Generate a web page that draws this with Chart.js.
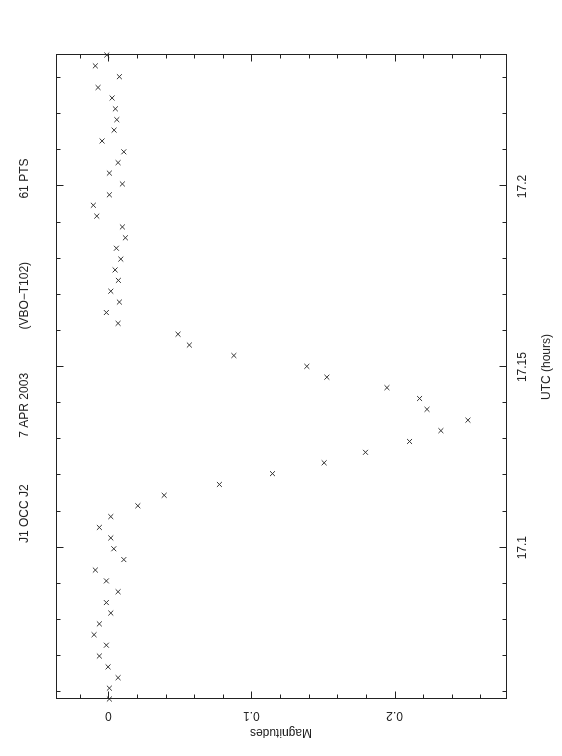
<!DOCTYPE html>
<html>
<head>
<meta charset="utf-8">
<title>J1 OCC J2 - 7 APR 2003</title>
<script src="https://cdn.jsdelivr.net/npm/chart.js@4/dist/chart.umd.min.js"></script>
<style>
    html, body { margin: 0; padding: 0; background: #fff; overflow: hidden; }
    #wrap { position: relative; width: 562px; height: 756px; }
    /* the plot is drawn landscape and turned a quarter turn to the left */
    #lightcurve {
        position: absolute; left: 0; top: 0;
        transform-origin: 0 0;
        transform: translateY(756px) rotate(-90deg);
    }
</style>
</head>
<body>
<div id="wrap">
    <canvas id="lightcurve" width="756" height="562"></canvas>
</div>
<script>
// 61 points, UTC in hours
const utcHours = [
    17.0581, 17.0611, 17.0640, 17.0670, 17.0700, 17.0730, 17.0759, 17.0789, 17.0819, 17.0848,
    17.0878, 17.0908, 17.0938, 17.0967, 17.0997, 17.1027, 17.1056, 17.1086, 17.1116, 17.1145,
    17.1175, 17.1205, 17.1235, 17.1264, 17.1294, 17.1324, 17.1353, 17.1383, 17.1413, 17.1443,
    17.1472, 17.1502, 17.1532, 17.1561, 17.1591, 17.1621, 17.1651, 17.1680, 17.1710, 17.1740,
    17.1769, 17.1799, 17.1829, 17.1858, 17.1888, 17.1918, 17.1948, 17.1977, 17.2007, 17.2037,
    17.2066, 17.2096, 17.2126, 17.2156, 17.2185, 17.2215, 17.2245, 17.2274, 17.2304, 17.2334,
    17.2364
];

const magnitudes = [
    0.0007, 0.0007, 0.0068, -0.0002, -0.0063, -0.0014, -0.0100, -0.0063, 0.0017, -0.0014,
    0.0068, -0.0014, -0.0091, 0.0108, 0.0038, 0.0017, -0.0063, 0.0017, 0.0206, 0.0390,
    0.0776, 0.1147, 0.1508, 0.1797, 0.2105, 0.2324, 0.2513, 0.2227, 0.2175, 0.1947,
    0.1527, 0.1387, 0.0877, 0.0566, 0.0487, 0.0068, -0.0014, 0.0077, 0.0017, 0.0070,
    0.0047, 0.0087, 0.0056, 0.0119, 0.0098, -0.0081, -0.0105, 0.0007, 0.0098, 0.0007,
    0.0068, 0.0108, -0.0044, 0.0040, 0.0059, 0.0049, 0.0026, -0.0072, 0.0077, -0.0091,
    -0.0011
];

const timeTicks = [17.1, 17.15, 17.2];
const timeTickLabels = ['17.1', '17.15', '17.2'];
const magTicks = [0, 0.1, 0.2];
const magTickLabels = ['0', '0.1', '0.2'];

const timeRange = [17.0581, 17.2364];
const magRange = [-0.0366, 0.2779];

const titleText = 'J1 OCC J2              7 APR 2003             (VBO\u2212T102)                   61 PTS';

const ink = '#222';
Chart.defaults.font.family = '"Liberation Sans", Arial, sans-serif';
Chart.defaults.font.size = 12;
Chart.defaults.color = ink;

// box round the plot, with inward ticks on all four sides (major + minor)
const frameTicks = {
    id: 'frameTicks',
    afterDraw(chart) {
        const ctx = chart.ctx;
        const area = chart.chartArea;
        const xs = chart.scales.x;
        const ys = chart.scales.y;
        const L = Math.round(area.left) + 0.5;
        const R = Math.round(area.right) + 0.5;
        const T = Math.round(area.top) + 0.5;
        const B = Math.round(area.bottom) + 0.5;

        ctx.save();
        ctx.strokeStyle = ink;
        ctx.lineWidth = 1;
        ctx.strokeRect(L, T, R - L, B - T);

        ctx.beginPath();
        // time axis: minor every 0.01 h, major every 0.05 h
        for (let k = 1706; k <= 1723; k++) {
            const px = Math.round(xs.getPixelForValue(k / 100)) + 0.5;
            const len = k % 5 === 0 ? 7 : 4;
            ctx.moveTo(px, B); ctx.lineTo(px, B - len);
            ctx.moveTo(px, T); ctx.lineTo(px, T + len);
        }
        // magnitude axis: minor every 0.02, major every 0.1
        for (let k = -1; k <= 13; k++) {
            const py = Math.round(ys.getPixelForValue(k * 0.02)) + 0.5;
            const len = k % 5 === 0 ? 7 : 4;
            ctx.moveTo(L, py); ctx.lineTo(L + len, py);
            ctx.moveTo(R, py); ctx.lineTo(R - len, py);
        }
        ctx.stroke();

        // header line above the plot
        ctx.fillStyle = ink;
        ctx.font = '12px "Liberation Sans", Arial, sans-serif';
        ctx.textAlign = 'left';
        ctx.textBaseline = 'middle';
        ctx.fillText(titleText, area.left + 156, 25);
        ctx.restore();
    }
};

const points = utcHours.map((t, i) => ({ x: t, y: magnitudes[i] }));

new Chart(document.getElementById('lightcurve'), {
    type: 'scatter',
    data: {
        datasets: [{
            label: 'J1 OCC J2',
            data: points,
            pointStyle: 'crossRot',
            pointRadius: 3.5,
            pointHoverRadius: 3.5,
            borderWidth: 1,
            borderColor: '#333',
            backgroundColor: '#333',
            clip: false
        }]
    },
    options: {
        responsive: false,
        animation: false,
        devicePixelRatio: 1,
        layout: { padding: { top: 56, right: 55, left: 0, bottom: 0 } },
        plugins: {
            legend: { display: false },
            tooltip: { enabled: false }
        },
        scales: {
            x: {
                type: 'linear',
                position: 'bottom',
                min: timeRange[0],
                max: timeRange[1],
                afterBuildTicks: (scale) => {
                    scale.ticks = timeTicks.map(v => ({ value: v }));
                },
                afterFit: (scale) => { scale.height = 56; },
                ticks: {
                    padding: 9,
                    callback: (v, i) => timeTickLabels[i]
                },
                grid: { display: false, drawTicks: false },
                border: { display: false },
                title: {
                    display: true,
                    // leading blanks nudge the label towards 17.15, as in the original
                    text: '      UTC (hours)',
                    padding: { top: 0, bottom: 8 }
                }
            },
            y: {
                type: 'linear',
                position: 'left',
                reverse: true,
                min: magRange[0],
                max: magRange[1],
                afterBuildTicks: (scale) => {
                    scale.ticks = magTicks.map(v => ({ value: v }));
                },
                afterFit: (scale) => { scale.width = 57; },
                ticks: {
                    padding: 8,
                    minRotation: 90,
                    maxRotation: 90,
                    crossAlign: 'center',
                    callback: (v, i) => magTickLabels[i]
                },
                grid: { display: false, drawTicks: false },
                border: { display: false },
                title: {
                    display: true,
                    text: 'Magnitudes',
                    padding: { top: 16, bottom: 0 }
                }
            }
        }
    },
    plugins: [frameTicks]
});
</script>
</body>
</html>
